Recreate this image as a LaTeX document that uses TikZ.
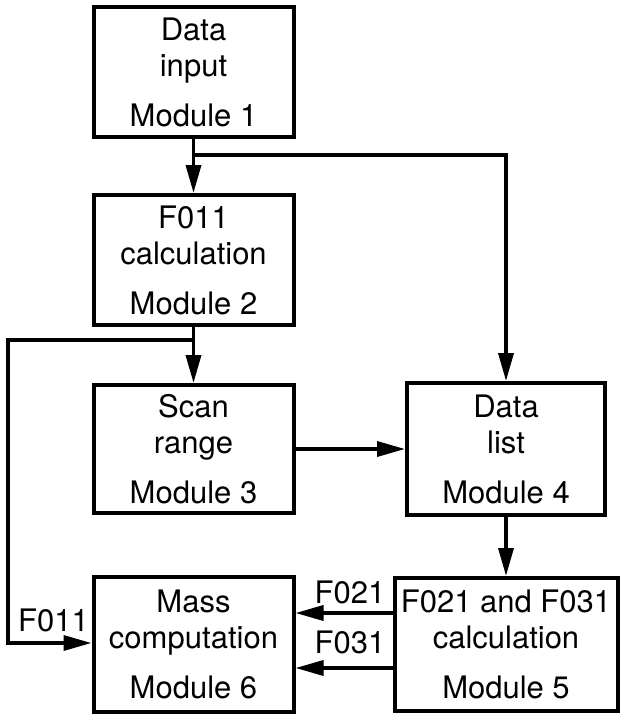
\documentclass[tikz,border=0pt]{standalone}
\usepackage{fontspec}
\setmainfont{TeX Gyre Heros}
\usetikzlibrary{arrows.meta,calc}
\begin{document}
\begin{tikzpicture}[x=1pt,y=-1pt,
  modbox/.style={draw, line width=4pt, align=center, inner sep=0pt,
    font=\fontsize{31}{36}\selectfont, minimum width=200pt, minimum height=130pt},
  conn/.style={line width=3.5pt},
  arr/.style={conn, -{Triangle[length=28pt,width=15pt]}},
  flab/.style={font=\fontsize{31}{36}\selectfont, inner sep=0pt}]
\path[fill=white] (0,0) rectangle (620,715);
\useasboundingbox (0,0) rectangle (620,715);

\node[modbox] (m1) at (193.5,72) {Data\\input\\[14pt]Module 1};
\node[modbox] (m2) at (193.5,260) {F011\\calculation\\[14pt]Module 2};
\node[modbox, minimum height=128pt] (m3) at (193.5,449) {Scan\\range\\[14pt]Module 3};
\node[modbox, minimum width=198pt, minimum height=132pt] (m4) at (506,449) {Data\\list\\[14pt]Module 4};
\node[modbox, minimum width=223pt, minimum height=133pt] (m5) at (506,644.5) {F021 and F031\\calculation\\[14pt]Module 5};
\node[modbox, minimum height=135pt] (m6) at (193.5,644.5) {Mass\\computation\\[14pt]Module 6};

% junctions
\coordinate (j1) at (193.5,155);
\coordinate (j2) at (193.5,340);
\coordinate (lc) at (8,643);
\coordinate (y21) at (0,613);
\coordinate (y31) at (0,668);

\draw[arr] (m1.south) -- (m2.north);
\draw[arr] (j1) -| (m4.north);
\draw[arr] (m2.south) -- (m3.north);
\draw[arr] (j2) -| (lc) -- (m6.west |- lc);
\draw[arr] (m3.east) -- (m4.west);
\draw[arr] (m4.south) -- (m5.north);
\draw[arr] (m5.west |- y21) -- (m6.east |- y21);
\draw[arr] (m5.west |- y31) -- (m6.east |- y31);

\node[flab, anchor=base] (l11) at (53.5,631) {F011};
\node[flab, anchor=base] (l21) at (350,603) {F021};
\node[flab, anchor=base] (l31) at (350,653) {F031};
\end{tikzpicture}
\end{document}
